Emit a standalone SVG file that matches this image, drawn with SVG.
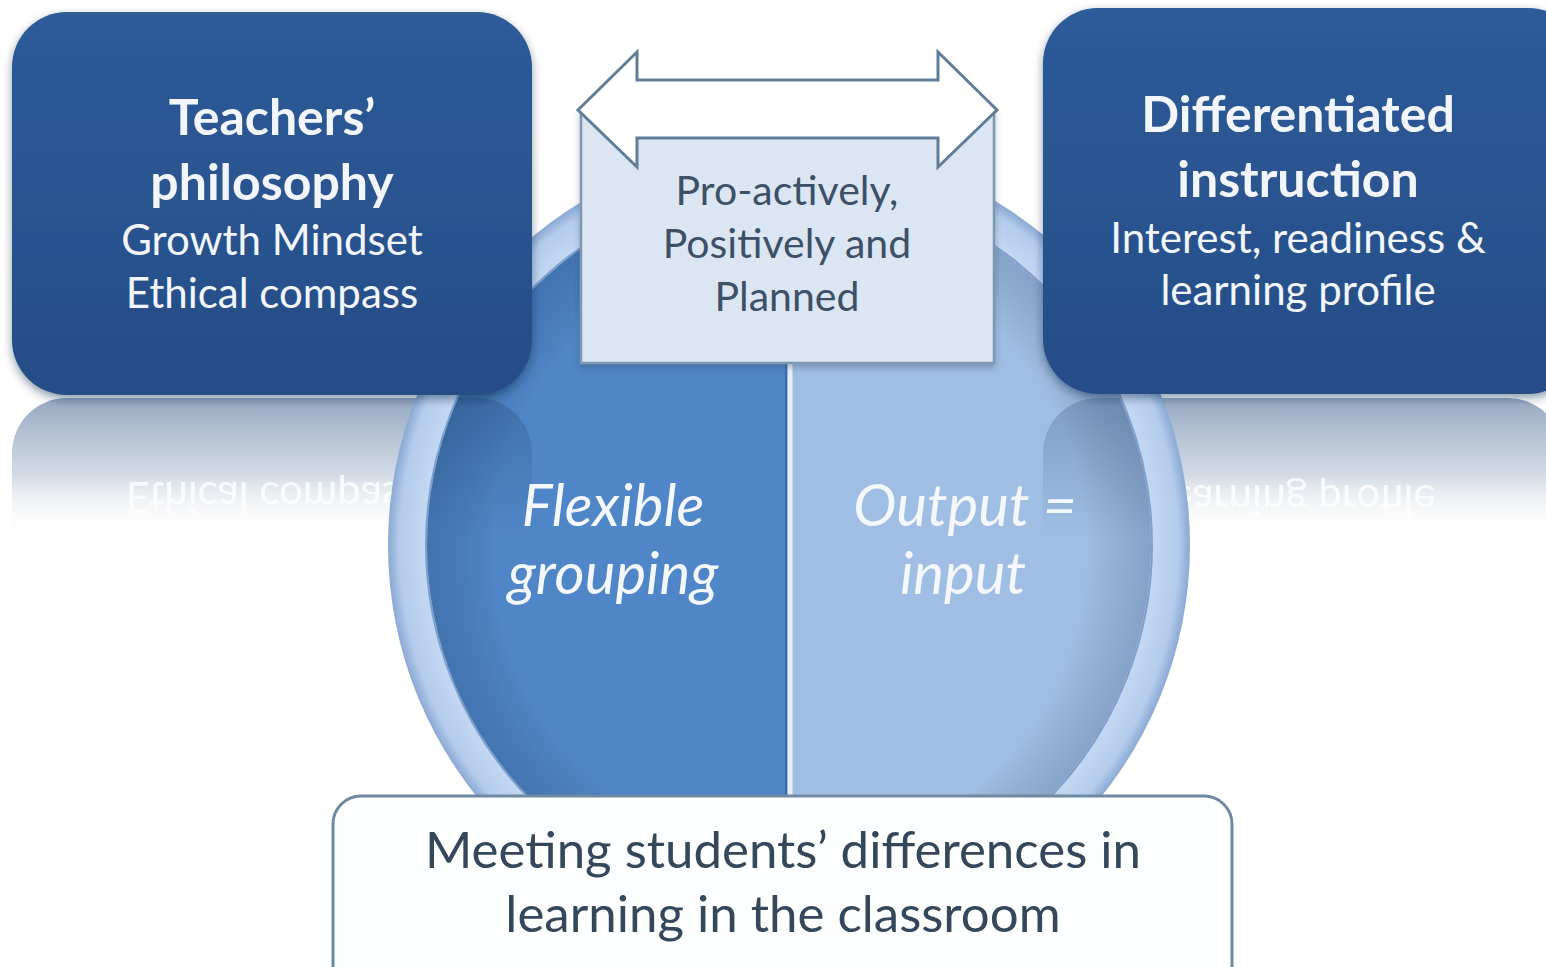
<svg xmlns="http://www.w3.org/2000/svg" width="1546" height="967" viewBox="0 0 1546 967">
<defs>
<style>
.boxT{font-family:Lato,"Open Sans",sans-serif;fill:#f2f6fb;text-anchor:middle}
.bold{font-weight:bold;font-size:50px}
.reg{font-size:42px}
.mid{font-family:Lato,"Open Sans",sans-serif;fill:#3c5068;text-anchor:middle;font-size:41px}
.circT{font-family:Lato,"Open Sans",sans-serif;fill:#f4f8fd;text-anchor:middle;font-style:italic;font-size:58px}
.botT{font-family:Lato,"Open Sans",sans-serif;fill:#35475a;text-anchor:middle;font-size:51px}
.refT{font-family:Lato,"Open Sans",sans-serif;fill:#ffffff;text-anchor:middle;font-size:42px;opacity:0.8}
</style>
<linearGradient id="darkBox" x1="0" y1="0" x2="0" y2="1">
<stop offset="0" stop-color="#2d5b98"/>
<stop offset="1" stop-color="#254d86"/>
</linearGradient>
<linearGradient id="refl" x1="0" y1="0" x2="0" y2="1">
<stop offset="0" stop-color="#8ea2bd" stop-opacity="0.95"/>
<stop offset="0.2" stop-color="#b4c1d2" stop-opacity="0.6"/>
<stop offset="0.36" stop-color="#ffffff" stop-opacity="0"/>
<stop offset="1" stop-color="#ffffff" stop-opacity="0"/>
</linearGradient>
<linearGradient id="discRefl" x1="0" y1="0" x2="0" y2="1">
<stop offset="0" stop-color="#0d2b55" stop-opacity="0.22"/>
<stop offset="0.36" stop-color="#0d2b55" stop-opacity="0"/>
<stop offset="1" stop-color="#0d2b55" stop-opacity="0"/>
</linearGradient>
<radialGradient id="ringG" cx="0.5" cy="0.5" r="0.5">
<stop offset="0.88" stop-color="#cadcf5"/>
<stop offset="0.97" stop-color="#b5ccec"/>
<stop offset="1" stop-color="#8aa9d3"/>
</radialGradient>
<radialGradient id="discShade" cx="0.5" cy="0.5" r="0.5">
<stop offset="0.8" stop-color="#000" stop-opacity="0"/>
<stop offset="1" stop-color="#0a2550" stop-opacity="0.2"/>
</radialGradient>
<clipPath id="discClip"><circle cx="789" cy="545" r="362"/></clipPath>
<filter id="shadow" x="-10%" y="-10%" width="120%" height="130%">
<feDropShadow dx="0" dy="4" stdDeviation="5" flood-color="#0b2140" flood-opacity="0.45"/>
</filter>
<filter id="softShadow" x="-10%" y="-10%" width="120%" height="130%">
<feDropShadow dx="0" dy="3" stdDeviation="3" flood-color="#2a3e55" flood-opacity="0.35"/>
</filter>
</defs>
<rect x="0" y="0" width="1546" height="967" fill="#ffffff"/>

<g id="reflections">
<rect x="12" y="398" width="520" height="383" rx="55" fill="url(#refl)"/>
<rect x="1043" y="398" width="520" height="383" rx="55" fill="url(#refl)"/>
<text class="refT" transform="translate(0,790) scale(1,-1)" x="272" y="308">Ethical compass</text>
<text class="refT" transform="translate(0,790) scale(1,-1)" x="1298" y="305">learning profile</text>
</g>

<g id="center-circle">
<circle cx="789" cy="545" r="401" fill="url(#ringG)"/>
<circle cx="789" cy="545" r="363" fill="none" stroke="#7d9fcc" stroke-width="2"/>
<g clip-path="url(#discClip)">
<rect x="420" y="170" width="369" height="760" fill="#4f86c7"/>
<rect x="789" y="170" width="380" height="760" fill="#a0bde3"/>
<rect x="420" y="170" width="740" height="760" fill="url(#discShade)"/>
<rect x="12" y="398" width="520" height="383" rx="55" fill="url(#discRefl)"/>
<rect x="1043" y="398" width="520" height="383" rx="55" fill="url(#discRefl)"/>
<line x1="786" y1="170" x2="786" y2="930" stroke="#3e6ea8" stroke-width="2"/>
<line x1="790" y1="170" x2="790" y2="930" stroke="#e6eff9" stroke-width="5"/>
</g>
<text class="circT" x="613" y="526">Flexible</text>
<text class="circT" x="613" y="594">grouping</text>
<text class="circT" x="965" y="526">Output =</text>
<text class="circT" x="963" y="594">input</text>
</g>

<g id="teachers-philosophy">
<rect x="12" y="12" width="520" height="383" rx="55" fill="url(#darkBox)" filter="url(#shadow)"/>
<text class="boxT bold" x="272" y="135">Teachers’</text>
<text class="boxT bold" x="272" y="200">philosophy</text>
<text class="boxT reg" x="272" y="255">Growth Mindset</text>
<text class="boxT reg" x="272" y="308">Ethical compass</text>
</g>

<g id="differentiated-instruction">
<rect x="1043" y="8" width="540" height="386" rx="55" fill="url(#darkBox)" filter="url(#shadow)"/>
<text class="boxT bold" x="1298" y="132">Differentiated</text>
<text class="boxT bold" x="1298" y="197">instruction</text>
<text class="boxT reg" x="1298" y="253">Interest, readiness &amp;</text>
<text class="boxT reg" x="1298" y="305">learning profile</text>
</g>

<g id="approach-box">
<rect x="581" y="110" width="413" height="253" fill="#dce6f2" stroke="#7f98b1" stroke-width="2.5" filter="url(#softShadow)"/>
<text class="mid" x="787" y="205">Pro-actively,</text>
<text class="mid" x="787" y="258">Positively and</text>
<text class="mid" x="787" y="311">Planned</text>
</g>

<g id="connectors">
<path d="M578,110 L637,52 L637,80 L938,80 L938,52 L997,110 L938,167 L938,138 L637,138 L637,167 Z" fill="#ffffff" stroke="#607e9a" stroke-width="3" stroke-linejoin="miter"/>
</g>

<g id="goal-box">
<rect x="333" y="796" width="899" height="220" rx="28" fill="#fdfefe" stroke="#6f89a3" stroke-width="3"/>
<text class="botT" x="783" y="868">Meeting students’ differences in</text>
<text class="botT" x="783" y="932">learning in the classroom</text>
</g>
</svg>
